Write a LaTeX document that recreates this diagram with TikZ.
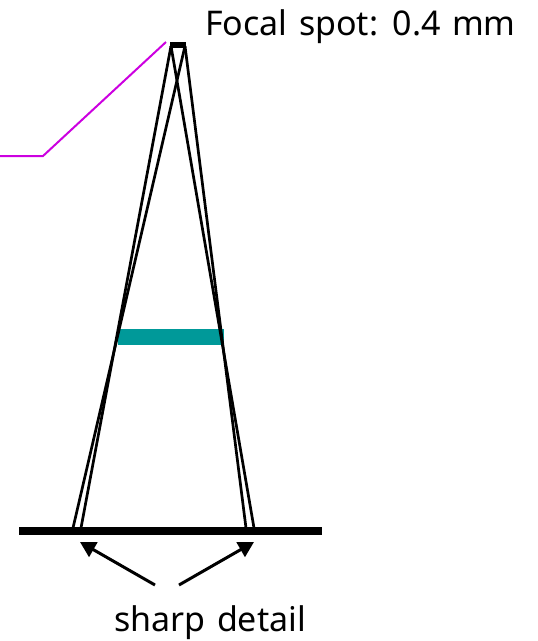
\documentclass[tikz,border=0pt]{standalone}
\usepackage{fontspec}
\setmainfont[WordSpace=1.3]{Noto Sans}
\usetikzlibrary{arrows.meta,positioning}
\definecolor{filtercol}{RGB}{0,153,153}
\definecolor{leadcol}{RGB}{204,0,224}

\begin{document}
\begin{tikzpicture}[
    x=1pt, y=-1pt,
    >={Triangle[length=15.4pt,width=16.5pt]},
    ray/.style={draw=black, line width=2.7pt},
    pointer/.style={->, draw=black, line width=3pt},
    block/.style={fill=black, inner sep=0pt, outer sep=0pt},
    lbl/.style={font=\fontsize{34}{38}\selectfont, inner sep=0pt, anchor=base west},
    node distance=9mm and 12mm,
]
\useasboundingbox (0,0) rectangle (538,641);

% --- Source, object and film ---
\node[block, minimum width=16pt, minimum height=6pt] (focal) at (178,45) {};
\node[block, fill=filtercol, minimum width=106pt, minimum height=16pt] (object) at (171,337) {};
\node[block, minimum width=303pt, minimum height=8pt] (film) at (170.5,531) {};

% --- Ends of the rays ---
\coordinate (srcL) at (171,46);
\coordinate (srcR) at (185,46);
\coordinate (filmA) at (73,528);
\coordinate (filmB) at (81,528);
\coordinate (filmC) at (246,528);
\coordinate (filmD) at (254,528);

% rays pass the object edges
\draw[ray] (srcL) -- (filmB);
\draw[ray] (srcR) -- (filmA);
\draw[ray] (srcL) -- (filmD);
\draw[ray] (srcR) -- (filmC);

% --- Lead line to the focal spot ---
\coordinate (leadA) at (0,156);
\coordinate (leadB) at (43,156);
\coordinate (leadC) at (166,42);
\draw[leadcol, line width=2pt] (leadA) -- (leadB) -- (leadC);

% --- Labels ---
\node[lbl] (spot) at (205,35) {Focal spot: 0.4 mm};
\node[lbl] (sharp) at (114,631) {sharp detail};

% arrows to the film
\coordinate (arrowL) at (155,585);
\coordinate (arrowR) at (179,585);
\coordinate (tipL) at (80,542);
\coordinate (tipR) at (254,542);
\draw[pointer] (arrowL) -- (tipL);
\draw[pointer] (arrowR) -- (tipR);

\end{tikzpicture}
\end{document}
